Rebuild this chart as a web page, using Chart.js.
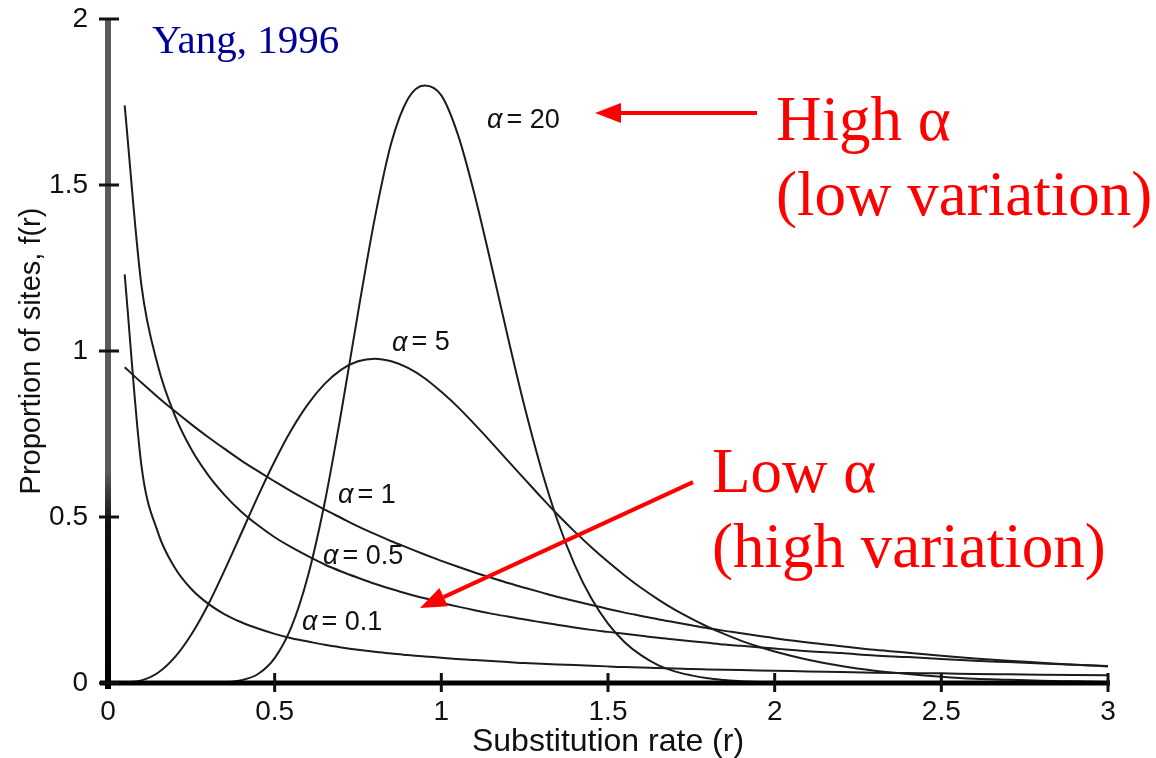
<!DOCTYPE html>
<html>
<head>
<meta charset="utf-8">
<title>Gamma distribution of substitution rates</title>
<script src="https://cdn.jsdelivr.net/npm/chart.js@4.4.1/dist/chart.umd.min.js"></script>
<style>
  html, body { margin: 0; padding: 0; background: #fff; }
  #wrap { width: 1156px; height: 758px; }
</style>
</head>
<body>
<div id="wrap"><canvas id="gammaChart"></canvas></div>
<script>
// values (Yang, 1996)
const rates = [0.05, 0.1, 0.15, 0.2, 0.25, 0.3, 0.35, 0.4, 0.45, 0.5,
               0.55, 0.6, 0.65, 0.7, 0.75, 0.8, 0.85, 0.9, 0.95, 1,
               1.05, 1.1, 1.15, 1.2, 1.25, 1.3, 1.35, 1.4, 1.45, 1.5,
               1.55, 1.6, 1.65, 1.7, 1.75, 1.8, 1.85, 1.9, 1.95, 2,
               2.1, 2.2, 2.3, 2.4, 2.5, 2.6, 2.7, 2.8, 2.9, 3];

const alpha01 = [1.231, 0.657, 0.453, 0.348, 0.283, 0.239, 0.207, 0.183, 0.164, 0.148,
                 0.135, 0.125, 0.115, 0.107, 0.100, 0.094, 0.089, 0.084, 0.080, 0.076,
                 0.072, 0.069, 0.066, 0.063, 0.060, 0.058, 0.056, 0.054, 0.052, 0.050,
                 0.048, 0.047, 0.045, 0.044, 0.042, 0.041, 0.040, 0.039, 0.038, 0.037,
                 0.035, 0.033, 0.031, 0.030, 0.029, 0.027, 0.026, 0.025, 0.024, 0.023];

const alpha05 = [1.740, 1.200, 0.955, 0.807, 0.704, 0.627, 0.566, 0.516, 0.475, 0.439,
                 0.409, 0.382, 0.357, 0.336, 0.317, 0.299, 0.283, 0.268, 0.255, 0.242,
                 0.230, 0.219, 0.209, 0.200, 0.191, 0.183, 0.175, 0.167, 0.160, 0.154,
                 0.148, 0.142, 0.136, 0.131, 0.126, 0.121, 0.116, 0.112, 0.108, 0.104,
                 0.096, 0.090, 0.083, 0.078, 0.072, 0.067, 0.063, 0.059, 0.055, 0.051];

const alpha1 = [0.951, 0.905, 0.861, 0.819, 0.779, 0.741, 0.705, 0.670, 0.638, 0.607,
                0.577, 0.549, 0.522, 0.497, 0.472, 0.449, 0.427, 0.407, 0.387, 0.368,
                0.350, 0.333, 0.317, 0.301, 0.287, 0.273, 0.259, 0.247, 0.235, 0.223,
                0.212, 0.202, 0.192, 0.183, 0.174, 0.165, 0.157, 0.150, 0.142, 0.135,
                0.122, 0.111, 0.100, 0.091, 0.082, 0.074, 0.067, 0.061, 0.055, 0.050];

const alpha5 = [0.001, 0.008, 0.031, 0.077, 0.146, 0.235, 0.340, 0.451, 0.563, 0.668,
                0.762, 0.840, 0.901, 0.944, 0.969, 0.977, 0.969, 0.949, 0.918, 0.877,
                0.831, 0.779, 0.725, 0.669, 0.614, 0.559, 0.506, 0.456, 0.409, 0.365,
                0.324, 0.286, 0.252, 0.221, 0.194, 0.169, 0.147, 0.127, 0.110, 0.095,
                0.070, 0.051, 0.037, 0.027, 0.019, 0.013, 0.010, 0.007, 0.005, 0.003];

const alpha20 = [null, null, null, null, null, 0.000, 0.002, 0.008, 0.027, 0.075,
                 0.168, 0.323, 0.543, 0.817, 1.115, 1.398, 1.627, 1.760, 1.800, 1.770,
                 1.651, 1.470, 1.259, 1.040, 0.831, 0.644, 0.485, 0.356, 0.255, 0.179,
                 0.123, 0.083, 0.054, 0.035, 0.023, 0.014, 0.009, 0.005, 0.003, 0.002,
                 0.000, null, null, null, null, null, null, null, null, null];

const seriesNames = ['0.1', '0.5', '1', '5', '20'];
const seriesValues = [alpha01, alpha05, alpha1, alpha5, alpha20];

const xTickLabels = ['0', '0.5', '1', '1.5', '2', '2.5', '3'];
const yTickLabels = ['0', '0.5', '1', '1.5', '2'];

// where the alpha labels sit, in data units (left edge, vertical centre)
const curveLabels = [
    { alpha: '20', x: 1.137, y: 1.693 },
    { alpha: '5', x: 0.852, y: 1.024 },
    { alpha: '1', x: 0.690, y: 0.566 },
    { alpha: '0.5', x: 0.645, y: 0.380 },
    { alpha: '0.1', x: 0.582, y: 0.181 }
];

const notes = [
    { text: 'Yang, 1996', x: 0.132, y: 1.898, color: '#000099', size: 41 },
    { text: 'High α', x: 2.004, y: 1.636, color: '#ff0000', size: 63 },
    { text: '(low variation)', x: 2.004, y: 1.410, color: '#ff0000', size: 63 },
    { text: 'Low α', x: 1.812, y: 0.575, color: '#ff0000', size: 63 },
    { text: '(high variation)', x: 1.812, y: 0.349, color: '#ff0000', size: 63 }
];

const arrows = [
    { from: [1.947, 1.717], to: [1.461, 1.717] },
    { from: [1.755, 0.605], to: [0.936, 0.226] }
];

function toPoints(values) {
    return rates.map((r, i) => ({ x: r, y: values[i] })).filter(p => p.y !== null);
}

// axes drawn as thick lines with ticks crossing them
const axesPlugin = {
    id: 'axes',
    afterDatasetsDraw(chart) {
        const { ctx, chartArea: a, scales: { x, y } } = chart;
        ctx.save();
        const g = ctx.createLinearGradient(0, a.top, 0, a.bottom);
        g.addColorStop(0, '#5a5a5a');
        g.addColorStop(0.68, '#5a5a5a');
        g.addColorStop(0.76, '#111');
        g.addColorStop(1, '#000');
        ctx.strokeStyle = g;
        ctx.lineWidth = 6;
        ctx.beginPath();
        ctx.moveTo(a.left, a.top);
        ctx.lineTo(a.left, a.bottom + 6);
        ctx.stroke();

        ctx.strokeStyle = '#000';
        ctx.lineWidth = 5;
        ctx.beginPath();
        ctx.moveTo(a.left - 8, a.bottom);
        ctx.lineTo(a.right + 2, a.bottom);
        ctx.stroke();

        ctx.lineWidth = 3;
        ctx.strokeStyle = '#111';
        y.ticks.forEach(t => {
            const py = y.getPixelForValue(t.value);
            ctx.beginPath();
            ctx.moveTo(a.left - 9, py);
            ctx.lineTo(a.left + 11, py);
            ctx.stroke();
        });
        x.ticks.forEach(t => {
            if (t.value === 0) return;
            const px = x.getPixelForValue(t.value);
            ctx.beginPath();
            ctx.moveTo(px, a.bottom - 10);
            ctx.lineTo(px, a.bottom + 9);
            ctx.stroke();
        });
        ctx.restore();
    }
};

function drawArrow(ctx, x1, y1, x2, y2) {
    const ang = Math.atan2(y2 - y1, x2 - x1);
    const head = 26, half = 10;
    const bx = x2 - head * Math.cos(ang), by = y2 - head * Math.sin(ang);
    ctx.beginPath();
    ctx.moveTo(x1, y1);
    ctx.lineTo(bx, by);
    ctx.stroke();
    ctx.beginPath();
    ctx.moveTo(x2, y2);
    ctx.lineTo(bx + half * Math.sin(ang), by - half * Math.cos(ang));
    ctx.lineTo(bx - half * Math.sin(ang), by + half * Math.cos(ang));
    ctx.closePath();
    ctx.fill();
}

const notesPlugin = {
    id: 'notes',
    afterDraw(chart) {
        const { ctx, scales: { x, y } } = chart;
        ctx.save();

        // alpha labels next to the curves
        ctx.fillStyle = '#111';
        ctx.textBaseline = 'middle';
        ctx.textAlign = 'left';
        curveLabels.forEach(l => {
            let px = x.getPixelForValue(l.x);
            const py = y.getPixelForValue(l.y);
            ctx.font = 'italic 27px "Liberation Sans"';
            ctx.fillText('α', px, py);
            px += ctx.measureText('α').width + 4;
            ctx.font = '27px "Liberation Sans"';
            ctx.fillText('= ' + l.alpha, px, py);
        });

        // citation and the red comments
        ctx.textBaseline = 'alphabetic';
        notes.forEach(n => {
            ctx.fillStyle = n.color;
            ctx.font = n.size + 'px "Liberation Serif"';
            ctx.fillText(n.text, x.getPixelForValue(n.x), y.getPixelForValue(n.y));
        });

        ctx.strokeStyle = '#ff0000';
        ctx.fillStyle = '#ff0000';
        ctx.lineWidth = 4;
        arrows.forEach(ar => {
            drawArrow(ctx,
                x.getPixelForValue(ar.from[0]), y.getPixelForValue(ar.from[1]),
                x.getPixelForValue(ar.to[0]), y.getPixelForValue(ar.to[1]));
        });
        ctx.restore();
    }
};

const ctx = document.getElementById('gammaChart').getContext('2d');
const gammaChart = new Chart(ctx, {
    type: 'scatter',
    data: {
        datasets: seriesValues.map((vals, i) => ({
            label: 'α = ' + seriesNames[i],
            data: toPoints(vals),
            showLine: true,
            borderColor: '#1c1c1c',
            borderWidth: 2,
            pointRadius: 0,
            fill: false,
            cubicInterpolationMode: 'monotone'
        }))
    },
    options: {
        responsive: true,
        maintainAspectRatio: false,
        animation: false,
        layout: { padding: { left: 0, right: 48, top: 19, bottom: 0 } },
        plugins: {
            legend: { display: false },
            tooltip: { enabled: false }
        },
        scales: {
            x: {
                type: 'linear',
                min: 0,
                max: 3,
                afterFit: s => { s.height = 75; },
                grid: { display: false, drawTicks: false },
                border: { display: false },
                ticks: {
                    stepSize: 0.5,
                    autoSkip: false,
                    maxRotation: 0,
                    padding: 12,
                    color: '#111',
                    font: { family: '"Liberation Sans"', size: 28 },
                    callback: (v, i) => xTickLabels[i]
                },
                title: {
                    display: true,
                    text: 'Substitution rate (r)',
                    color: '#111',
                    font: { family: '"Liberation Sans"', size: 32 },
                    padding: { top: 0, bottom: -3 }
                }
            },
            y: {
                type: 'linear',
                min: 0,
                max: 2,
                afterFit: s => { s.width = 108; s.paddingTop = 0; s.paddingBottom = 0; },
                grid: { display: false, drawTicks: false },
                border: { display: false },
                ticks: {
                    stepSize: 0.5,
                    padding: 20,
                    color: '#111',
                    font: { family: '"Liberation Sans"', size: 28 },
                    callback: (v, i) => yTickLabels[i]
                },
                title: {
                    display: true,
                    text: 'Proportion of sites, f(r)',
                    color: '#111',
                    font: { family: '"Liberation Sans"', size: 29 },
                    padding: { top: 15, bottom: 0 }
                }
            }
        }
    },
    plugins: [axesPlugin, notesPlugin]
});
</script>
</body>
</html>
